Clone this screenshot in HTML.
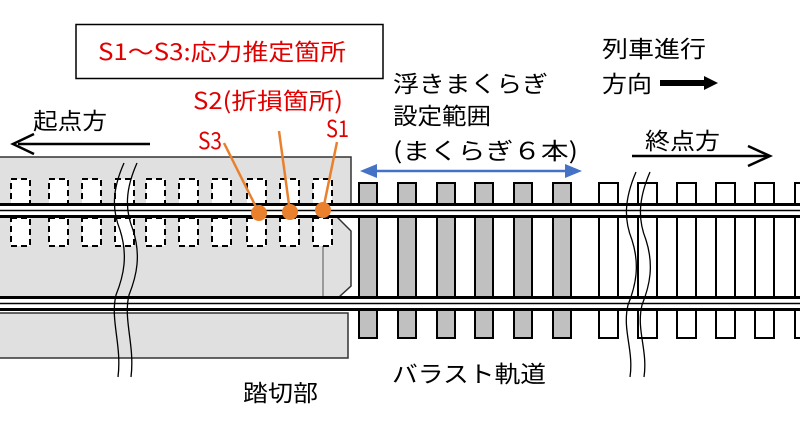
<!DOCTYPE html>
<html><head><meta charset="utf-8"><style>
body{margin:0;background:#fff}
svg{display:block}
text{font-family:"Noto Sans CJK JP","Liberation Sans",sans-serif;font-size:23px}
</style></head><body>
<svg width="800" height="423" viewBox="0 0 800 423" xmlns="http://www.w3.org/2000/svg">
<rect x="-1" y="157" width="352" height="47" fill="#e0e0e0" stroke="#333" stroke-width="1.5"/>
<path d="M-1 217 L337 217 L351 231 L351 286 L339 297 L-1 297 Z" fill="#e0e0e0" stroke="#333" stroke-width="1.5"/>
<line x1="323" y1="246" x2="323" y2="297" stroke="#555" stroke-width="1"/>
<rect x="-1" y="313" width="349" height="45" fill="#e0e0e0" stroke="#333" stroke-width="1.5"/>
<g fill="#fff" stroke="#000" stroke-width="2" stroke-dasharray="6,4">
<rect x="11" y="179" width="19" height="26"/><rect x="49" y="179" width="19" height="26"/><rect x="82" y="179" width="19" height="26"/><rect x="115" y="179" width="19" height="26"/><rect x="146" y="179" width="19" height="26"/><rect x="179" y="179" width="19" height="26"/><rect x="212" y="179" width="19" height="26"/><rect x="247" y="179" width="19" height="26"/><rect x="280" y="179" width="19" height="26"/><rect x="313" y="179" width="19" height="26"/>
<rect x="11" y="218" width="19" height="28"/><rect x="49" y="218" width="19" height="28"/><rect x="82" y="218" width="19" height="28"/><rect x="115" y="218" width="19" height="28"/><rect x="146" y="218" width="19" height="28"/><rect x="179" y="218" width="19" height="28"/><rect x="212" y="218" width="19" height="28"/><rect x="247" y="218" width="19" height="28"/><rect x="280" y="218" width="19" height="28"/><rect x="313" y="218" width="19" height="28"/>
</g>
<g fill="#c0c0c0" stroke="#000" stroke-width="2">
<rect x="359" y="183" width="18" height="155"/><rect x="398" y="183" width="18" height="155"/><rect x="437" y="183" width="18" height="155"/><rect x="475" y="183" width="18" height="155"/><rect x="514" y="183" width="18" height="155"/><rect x="553" y="183" width="18" height="155"/>
</g>
<g fill="#fff" stroke="#000" stroke-width="2">
<rect x="599" y="183" width="19" height="155"/><rect x="638" y="183" width="19" height="155"/><rect x="677" y="183" width="19" height="155"/><rect x="716" y="183" width="19" height="155"/><rect x="755" y="183" width="19" height="155"/><rect x="795" y="183" width="19" height="155"/>
</g>
<rect x="0" y="205" width="800" height="11" fill="#fff"/>
<rect x="0" y="298" width="800" height="11" fill="#fff"/>
<g stroke="#000">
<line x1="0" y1="204.5" x2="800" y2="204.5" stroke-width="3"/>
<line x1="0" y1="210.5" x2="800" y2="210.5" stroke-width="1.5"/>
<line x1="0" y1="216.5" x2="800" y2="216.5" stroke-width="3"/>
<line x1="0" y1="297.5" x2="800" y2="297.5" stroke-width="3"/>
<line x1="0" y1="303.5" x2="800" y2="303.5" stroke-width="1.5"/>
<line x1="0" y1="309.5" x2="800" y2="309.5" stroke-width="3"/>
</g>
<g fill="none" stroke="#000" stroke-width="1.3">
<path d="M124 163 C112 190,112 210,120 230 C128 255,124 275,116 295 C110 320,122 345,118 377"/>
<path d="M137 163 C125 190,125 210,133 230 C141 255,137 275,129 295 C123 320,135 345,131 377"/>
<path d="M636 172 C624 200,624 220,632 240 C640 265,636 285,628 305 C622 330,634 350,630 377"/>
<path d="M650 172 C638 200,638 220,646 240 C654 265,650 285,642 305 C636 330,648 350,644 377"/>
</g>
<g stroke="#e8802e" stroke-width="2.5">
<line x1="224" y1="143" x2="259" y2="213"/>
<line x1="279" y1="131" x2="290" y2="212"/>
<line x1="337" y1="142" x2="323" y2="210"/>
</g>
<g fill="#e8802e">
<circle cx="259" cy="213" r="8"/><circle cx="290" cy="212" r="8"/><circle cx="323" cy="210" r="8"/>
</g>
<line x1="372" y1="171" x2="570" y2="171" stroke="#4472c4" stroke-width="2.5"/>
<polygon points="360,171 377,164 377,178" fill="#4472c4"/>
<polygon points="582,171 565,164 565,178" fill="#4472c4"/>
<rect x="76" y="24.5" width="307" height="54" fill="#fff" stroke="#000" stroke-width="1.5"/>
<text x="98" y="60" fill="#e00000" textLength="248" lengthAdjust="spacingAndGlyphs">S1～S3:応力推定箇所</text>
<text x="193" y="109" fill="#e00000" textLength="150" lengthAdjust="spacingAndGlyphs">S2(折損箇所)</text>
<text x="198" y="149" fill="#e00000" textLength="24" lengthAdjust="spacingAndGlyphs">S3</text>
<text x="326" y="137" fill="#e00000" textLength="23" lengthAdjust="spacingAndGlyphs">S1</text>
<text x="33" y="129" textLength="74" lengthAdjust="spacingAndGlyphs">起点方</text>
<text x="393" y="92" textLength="155" lengthAdjust="spacingAndGlyphs">浮きまくらぎ</text>
<text x="393" y="124" textLength="98" lengthAdjust="spacingAndGlyphs">設定範囲</text>
<text x="393" y="159" textLength="185" lengthAdjust="spacingAndGlyphs">(まくらぎ６本)</text>
<text x="602" y="57" textLength="104" lengthAdjust="spacingAndGlyphs">列車進行</text>
<text x="602" y="92" textLength="50" lengthAdjust="spacingAndGlyphs">方向</text>
<text x="645" y="149" textLength="75" lengthAdjust="spacingAndGlyphs">終点方</text>
<text x="392" y="382" textLength="154" lengthAdjust="spacingAndGlyphs">バラスト軌道</text>
<text x="243" y="401" textLength="75" lengthAdjust="spacingAndGlyphs">踏切部</text>
<line x1="18" y1="144" x2="150" y2="144" stroke="#000" stroke-width="2.5"/>
<polyline points="34,134 13,144 34,154" fill="none" stroke="#000" stroke-width="2.5"/>
<line x1="660" y1="83" x2="706" y2="83" stroke="#000" stroke-width="6"/>
<polygon points="704,76 718,83 704,90" fill="#000"/>
<line x1="632" y1="156" x2="768" y2="156" stroke="#000" stroke-width="2.5"/>
<polyline points="748,146 770,156 748,166" fill="none" stroke="#000" stroke-width="2.5"/>
</svg>
</body></html>
